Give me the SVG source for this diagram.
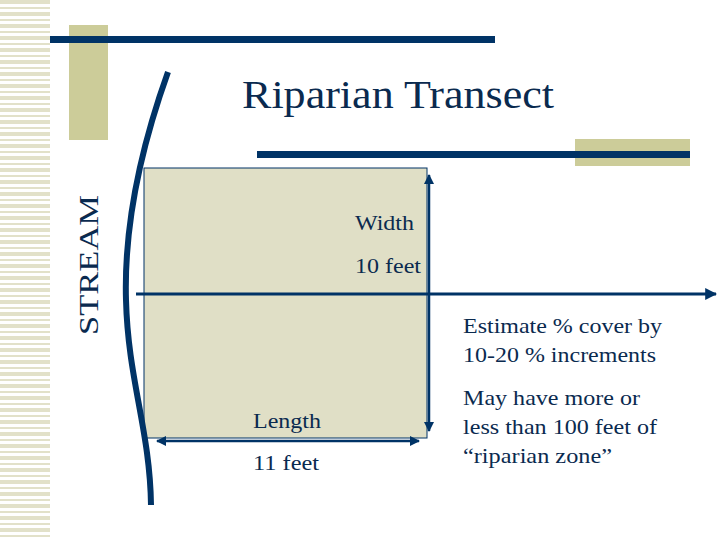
<svg xmlns="http://www.w3.org/2000/svg" width="720" height="540" viewBox="0 0 720 540">
<defs>
<style>
text{font-family:"Liberation Serif","Times New Roman",Times,serif;fill:#0a2a4f}
.ln{stroke:#003366;fill:none}
</style>
<pattern id="st" width="50" height="12" patternUnits="userSpaceOnUse">
<rect width="50" height="12" fill="#fff"/>
<rect y="0" width="50" height="4" fill="#e2e1c9"/>
<rect y="7" width="50" height="2" fill="#e2e1c9"/>
</pattern>
<marker id="ah" viewBox="0 0 10 10" refX="9" refY="5" markerWidth="4" markerHeight="4" orient="auto-start-reverse"><path d="M0,0L10,5L0,10z" fill="#003366"/></marker>
</defs>
<rect width="720" height="540" fill="#fff"/>
<rect x="0" y="0" width="50" height="540" fill="url(#st)"/>
<rect x="69" y="25" width="39" height="115" fill="#cccc99"/>
<rect x="575" y="139" width="115" height="27" fill="#cccc99"/>
<rect x="50" y="36" width="445" height="7" fill="#003366"/>
<rect x="257" y="151" width="433" height="7" fill="#003366"/>
<g id="plot"><rect x="144" y="168" width="283" height="270" fill="#e0dfc6" stroke="#003366" stroke-width="1"/></g>
<g id="connectors">
<path class="ln" stroke-width="6" d="M168,72 C140,150 124,230 126,300 C128,380 150,430 151,505"/>
<line class="ln" stroke-width="3" x1="136" y1="294" x2="716" y2="294" marker-end="url(#ah)"/>
<line class="ln" stroke-width="2.5" x1="429" y1="175" x2="429" y2="431" marker-start="url(#ah)" marker-end="url(#ah)"/>
<line class="ln" stroke-width="2.5" x1="157" y1="441" x2="419" y2="441" marker-start="url(#ah)" marker-end="url(#ah)"/>
</g>
<text x="242" y="108" font-size="40" textLength="312" lengthAdjust="spacingAndGlyphs">Riparian Transect</text>
<text font-size="28" transform="translate(98,335) rotate(-90)" textLength="140" lengthAdjust="spacingAndGlyphs">STREAM</text>
<text x="355" y="230" font-size="22" textLength="59" lengthAdjust="spacingAndGlyphs">Width</text>
<text x="355" y="273" font-size="22" textLength="66" lengthAdjust="spacingAndGlyphs">10 feet</text>
<text x="253" y="428" font-size="22" textLength="68" lengthAdjust="spacingAndGlyphs">Length</text>
<text x="253" y="470" font-size="22" textLength="66" lengthAdjust="spacingAndGlyphs">11 feet</text>
<text x="463" y="333" font-size="22" textLength="199" lengthAdjust="spacingAndGlyphs">Estimate % cover by</text>
<text x="463" y="362" font-size="22" textLength="193" lengthAdjust="spacingAndGlyphs">10-20 % increments</text>
<text x="463" y="405" font-size="22" textLength="177" lengthAdjust="spacingAndGlyphs">May have more or</text>
<text x="463" y="434" font-size="22" textLength="194" lengthAdjust="spacingAndGlyphs">less than 100 feet of</text>
<text x="463" y="463" font-size="22" textLength="149" lengthAdjust="spacingAndGlyphs">“riparian zone”</text>
</svg>
